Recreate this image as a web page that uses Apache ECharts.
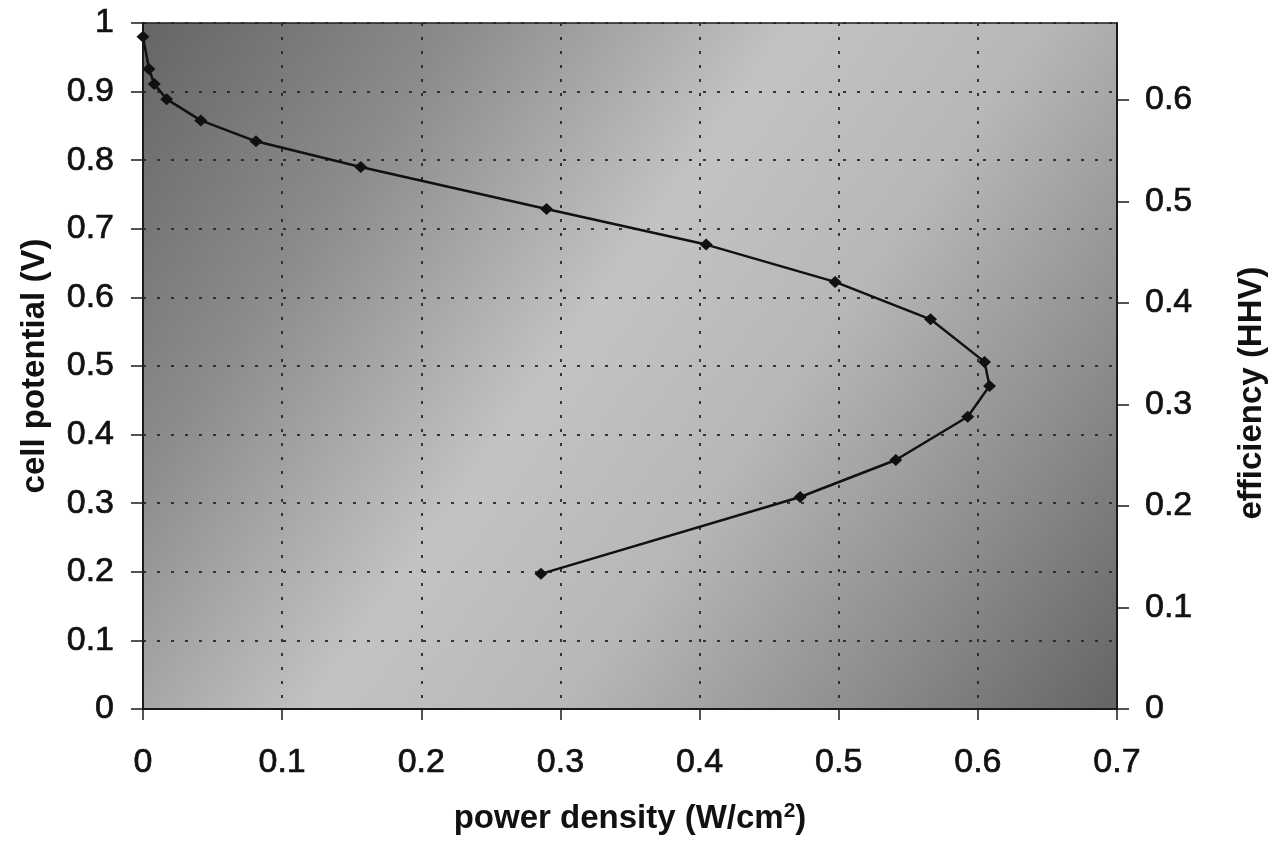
<!DOCTYPE html>
<html>
<head>
<meta charset="utf-8">
<title>Cell potential vs power density</title>
<script src="https://cdn.jsdelivr.net/npm/echarts@6/dist/echarts.min.js"></script>
<style>
  html, body { margin: 0; padding: 0; background: #ffffff; }
  #chart { width: 1285px; height: 841px; }
</style>
</head>
<body>
<div id="chart"></div>
<script>
// Polarization data: power density (W/cm^2) against cell potential (V)
const powerDensity = [0, 0.0043, 0.0081, 0.017, 0.0415, 0.0812, 0.1565, 0.290, 0.4047,
  0.4974, 0.566, 0.6048, 0.6084, 0.5927, 0.541, 0.4723, 0.286];
const cellPotential = [0.980, 0.933, 0.911, 0.889, 0.858, 0.8275, 0.790, 0.729, 0.677,
  0.6226, 0.568, 0.506, 0.471, 0.426, 0.363, 0.309, 0.197];

// Axis ranges / ticks
const powerTicks = [0, 0.1, 0.2, 0.3, 0.4, 0.5, 0.6, 0.7];
const potentialTicks = [0, 0.1, 0.2, 0.3, 0.4, 0.5, 0.6, 0.7, 0.8, 0.9, 1];
const efficiencyTicks = [0, 0.1, 0.2, 0.3, 0.4, 0.5, 0.6];
// HHV efficiency = cell potential / 1.48 V
const HHV_VOLTAGE = 1.48;

const FONT = "'Liberation Sans', Arial, Helvetica, sans-serif";
const TEXT = '#111111';

const points = powerDensity.map((p, i) => [p, cellPotential[i]]);

const chart = echarts.init(document.getElementById('chart'), null, { renderer: 'canvas' });

const gridLine = {
  show: true,
  lineStyle: { color: '#262626', width: 2, type: [3, 11], opacity: 0.9 }
};

// tick labels are set slightly heavier than the regular face
const tickLabel = {
  fontFamily: FONT, fontSize: 34, color: TEXT,
  textBorderColor: TEXT, textBorderWidth: 0.7
};

chart.setOption({
  animation: false,
  backgroundColor: '#ffffff',
  grid: {
    left: 143, right: 168, top: 23, bottom: 132,
    show: true,
    borderColor: '#1e1e1e',
    borderWidth: 1.5,
    backgroundColor: new echarts.graphic.LinearGradient(0, 0, 1, 1, [
      { offset: 0, color: '#656565' },
      { offset: 0.22, color: '#8c8c8c' },
      { offset: 0.45, color: '#c3c3c3' },
      { offset: 0.62, color: '#b7b7b7' },
      { offset: 0.82, color: '#8d8d8d' },
      { offset: 1, color: '#646464' }
    ])
  },
  xAxis: {
    type: 'value',
    min: powerTicks[0],
    max: powerTicks[powerTicks.length - 1],
    interval: 0.1,
    name: 'power density (W/cm{sup|2})',
    nameLocation: 'middle',
    nameGap: 92,
    nameTextStyle: {
      fontFamily: FONT, fontSize: 33, fontWeight: 'bold', color: TEXT,
      rich: { sup: { fontFamily: FONT, fontSize: 21, fontWeight: 'bold', color: TEXT, verticalAlign: 'top', padding: [0, 0, 14, 0] } }
    },
    axisLine: { show: true, onZero: false, lineStyle: { color: '#1a1a1a', width: 2 } },
    axisTick: { show: true, inside: false, length: 11, lineStyle: { color: '#1a1a1a', width: 1.5 } },
    axisLabel: Object.assign({ margin: 37 }, tickLabel),
    splitLine: gridLine
  },
  yAxis: [
    {
      type: 'value',
      position: 'left',
      min: potentialTicks[0],
      max: potentialTicks[potentialTicks.length - 1],
      interval: 0.1,
      name: 'cell potential (V)',
      nameLocation: 'middle',
      nameGap: 92,
      nameRotate: 90,
      nameTextStyle: { fontFamily: FONT, fontSize: 33, fontWeight: 'bold', color: TEXT },
      axisLine: { show: true, onZero: false, lineStyle: { color: '#1a1a1a', width: 2 } },
      axisTick: { show: true, inside: false, length: 12, lineStyle: { color: '#1a1a1a', width: 1.5 } },
      axisLabel: Object.assign({ margin: 29 }, tickLabel),
      splitLine: gridLine
    },
    {
      type: 'value',
      position: 'right',
      min: efficiencyTicks[0],
      max: potentialTicks[potentialTicks.length - 1] / HHV_VOLTAGE,
      interval: 0.1,
      name: 'efficiency (HHV)',
      nameLocation: 'middle',
      nameGap: 118,
      nameRotate: 90,
      nameTextStyle: {
        fontFamily: FONT, fontSize: 33, fontWeight: 'bold', color: TEXT,
        padding: [0, 54, 0, 0]
      },
      axisLine: { show: true, onZero: false, lineStyle: { color: '#1a1a1a', width: 2 } },
      axisTick: { show: true, inside: false, length: 12, lineStyle: { color: '#1a1a1a', width: 1.5 } },
      axisLabel: Object.assign({
        margin: 28,
        showMaxLabel: false,
        formatter: v => (efficiencyTicks.some(t => Math.abs(t - v) < 1e-9) ? String(+v.toFixed(1)) : '')
      }, tickLabel),
      splitLine: { show: false }
    }
  ],
  series: [
    {
      type: 'line',
      yAxisIndex: 0,
      data: points,
      symbol: 'diamond',
      symbolSize: [13, 12],
      showAllSymbol: true,
      lineStyle: { color: '#111111', width: 2.5 },
      itemStyle: { color: '#111111' },
      z: 5
    }
  ]
});
</script>
</body>
</html>
